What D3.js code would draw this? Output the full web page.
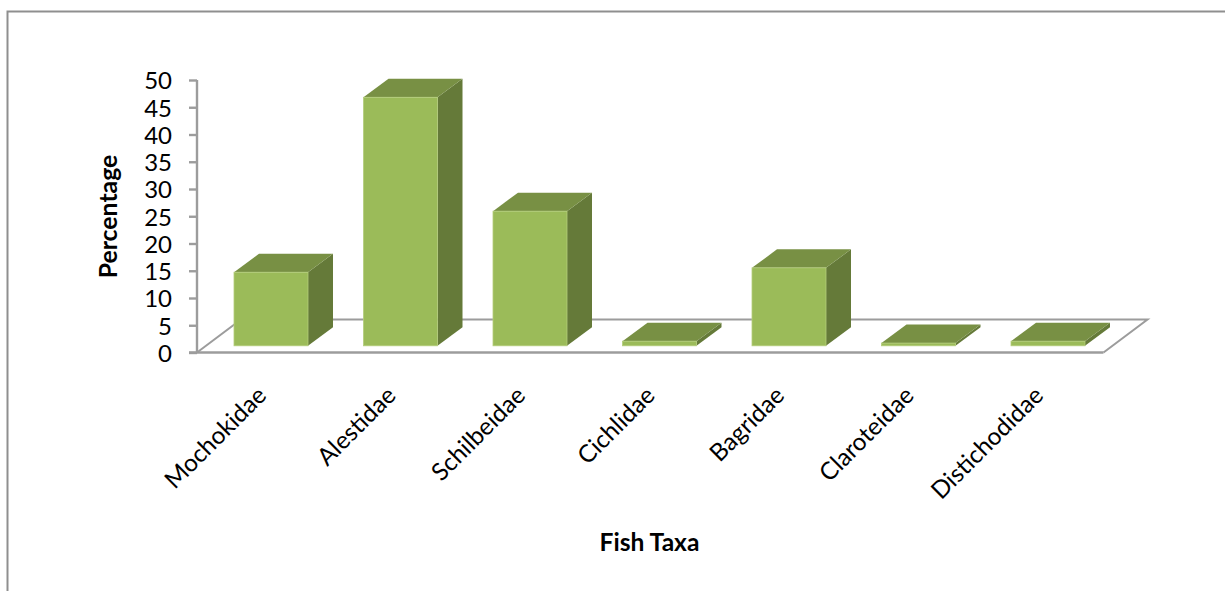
<!DOCTYPE html>
<html>
<head>
<meta charset="utf-8">
<script src="https://cdn.jsdelivr.net/npm/d3@7/dist/d3.min.js"></script>
<style>
  html, body { margin: 0; padding: 0; background: #fff; }
  svg { display: block; }
  text { font-family: Lato, "Open Sans", sans-serif; fill: #000; }
</style>
</head>
<body>
<svg id="chart" width="1225" height="591"></svg>
<script>
const categories = ["Mochokidae", "Alestidae", "Schilbeidae", "Cichlidae", "Bagridae", "Claroteidae", "Distichodidae"];
const percentages = [13.5, 45.6, 24.7, 0.85, 14.3, 0.5, 0.85];
const yTicks = [0, 5, 10, 15, 20, 25, 30, 35, 40, 45, 50];

const svg = d3.select("#chart");
const axisGrey = "#9c9c9c";
const frontFill = "#9bbb59", topFill = "#789044", sideFill = "#657a39", edge = "#b4cd7c";

// Frame around the chart area (open on the right and bottom)
svg.append("path")
  .attr("d", "M7.5,591V11.5H1225")
  .attr("fill", "none").attr("stroke", "#8f8f8f").attr("stroke-width", 2);

const x = d3.scaleBand().domain(categories).range([197, 1103.5]);
const y = d3.scaleLinear().domain([0, 50]).range([352.5, 80]);

// Floor of the 3-D plot
const floorDx = 44, floorDy = 33;
const [x0, x1] = x.range();
const y0 = y(0);
svg.append("path")
  .attr("d", `M${x0},${y0}L${x0 + floorDx},${y0 - floorDy}H${x1 + floorDx}L${x1},${y0}`)
  .attr("fill", "none").attr("stroke", axisGrey).attr("stroke-width", 2);
svg.append("line")
  .attr("x1", x0 - 8).attr("x2", x1).attr("y1", y0).attr("y2", y0)
  .attr("stroke", axisGrey).attr("stroke-width", 2.5);

// Value axis
const yAxis = svg.append("g")
  .attr("transform", `translate(${x0},0)`)
  .call(d3.axisLeft(y).tickValues(yTicks).tickSize(8).tickPadding(17));
yAxis.selectAll("path, line").attr("stroke", axisGrey).attr("stroke-width", 2.4);
yAxis.select(".domain").attr("d", `M0,${y(50)}V${y(0)}`);
yAxis.selectAll("text").attr("font-size", 24).attr("dy", "0.37em").attr("fill", "#1a1a1a");

// Bars: front face, top and side, offset from the floor's front edge
const barWidth = 74, insetX = 37, insetY = 6.7, depthX = 25, depthY = 18.5;
const bars = svg.append("g").selectAll("g")
  .data(categories.map((c, i) => ({ c, v: percentages[i] })))
  .join("g")
  .attr("transform", d => `translate(${x(d.c) + insetX},${-insetY})`);

bars.append("path").attr("fill", sideFill)
  .attr("d", d => `M${barWidth},${y(d.v)}l${depthX},${-depthY}V${y(0) - depthY}l${-depthX},${depthY}Z`);
bars.append("path").attr("fill", topFill)
  .attr("d", d => `M0,${y(d.v)}l${depthX},${-depthY}h${barWidth}l${-depthX},${depthY}Z`);
bars.append("rect").attr("fill", frontFill)
  .attr("stroke", edge).attr("stroke-width", 0.8)
  .attr("x", 0).attr("width", barWidth)
  .attr("y", d => y(d.v)).attr("height", d => y(0) - y(d.v));

// Category axis with slanted labels
const xAxis = svg.append("g")
  .attr("transform", "translate(0,380)")
  .call(d3.axisBottom(x).tickSize(0).tickPadding(0));
xAxis.select(".domain").remove();
xAxis.selectAll("text")
  .attr("font-size", 24.3)
  .attr("text-anchor", "end")
  .attr("dy", 0).attr("y", 0)
  .attr("transform", "translate(6,17) rotate(-45)");

// Axis titles
svg.append("text").text("Fish Taxa")
  .attr("x", 649.5).attr("y", 551).attr("text-anchor", "middle")
  .attr("font-size", 24.6).attr("font-weight", 700);
svg.append("text").text("Percentage")
  .attr("transform", "translate(117,216.5) rotate(-90)").attr("text-anchor", "middle")
  .attr("font-size", 24.8).attr("font-weight", 700);
</script>
</body>
</html>
